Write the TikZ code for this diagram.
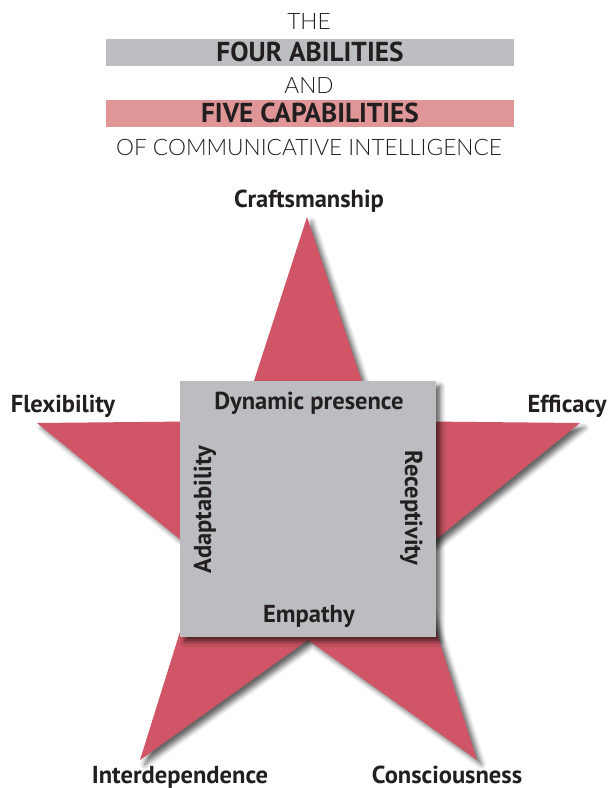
\documentclass[tikz,border=0pt]{standalone}
\usepackage{fontspec}
\setmainfont{PT Sans}
\IfFontExistsTF{Lato Light}{\newfontfamily\lightfont{Lato Light}}{\newfontfamily\lightfont{Lato}}
\usetikzlibrary{shadows.blur}
\definecolor{starred}{HTML}{D05566}
\definecolor{boxgray}{HTML}{BCBDC1}
\definecolor{bargray}{HTML}{BDBEC1}
\definecolor{barpink}{HTML}{E09597}
\definecolor{ink}{HTML}{231F20}
\tikzset{
  lighttitle/.style={text=ink,font=\lightfont\fontsize{17}{20}\selectfont,anchor=base,inner sep=0pt},
  boldtitle/.style={text=ink,font=\bfseries\fontsize{20.5}{24}\selectfont,anchor=base,inner sep=0pt},
  lbl/.style={text=ink,font=\bfseries\fontsize{18.4}{22}\selectfont,anchor=base,inner sep=0pt},
  softshadow/.style={blur shadow={shadow xshift=3.5pt,shadow yshift=-3.5pt,shadow blur radius=3.5pt,shadow opacity=60}}
}
\begin{document}
\begin{tikzpicture}[x=0.75pt,y=-0.75pt]
\path[use as bounding box] (0,0) rectangle (608,788);
% title bars
\fill[bargray] (106,39) rectangle (514,66);
\fill[barpink] (106,100) rectangle (514,127);
\node[lighttitle] (the) at (309,30) {THE};
\node[boldtitle] (four) at (310,62) {FOUR ABILITIES};
\node[lighttitle] (and) at (309,94) {AND};
\node[boldtitle] (five) at (310,123) {FIVE CAPABILITIES};
\node[lighttitle] (ofci) at (309,156) {OF COMMUNICATIVE INTELLIGENCE};
% star
\path[fill=starred,softshadow]
  (307,217) -- (375,421) -- (580,423) -- (413,558) -- (477,760)
  -- (308,640) -- (140,760) -- (203,558) -- (37,423) -- (241,421) -- cycle;
% square
\node[fill=boxgray,minimum width=192pt,minimum height=192pt,inner sep=0pt,softshadow] (sq) at (308,509) {};
% labels
\node[lbl] (craft) at (309,207) {Craftsmanship};
\node[lbl] (flex) at (63,412) {Flexibility};
\node[lbl] (eff) at (567,412) {Efficacy};
\node[lbl] (inter) at (180,783) {Interdependence};
\node[lbl] (cons) at (447,783) {Consciousness};
\node[lbl] (dyn) at (309,409) {Dynamic presence};
\node[lbl] (emp) at (309,622) {Empathy};
\node[lbl,rotate=90] (adapt) at (211,510) {Adaptability};
\node[lbl,rotate=-90] (recep) at (405,508) {Receptivity};
\end{tikzpicture}
\end{document}
